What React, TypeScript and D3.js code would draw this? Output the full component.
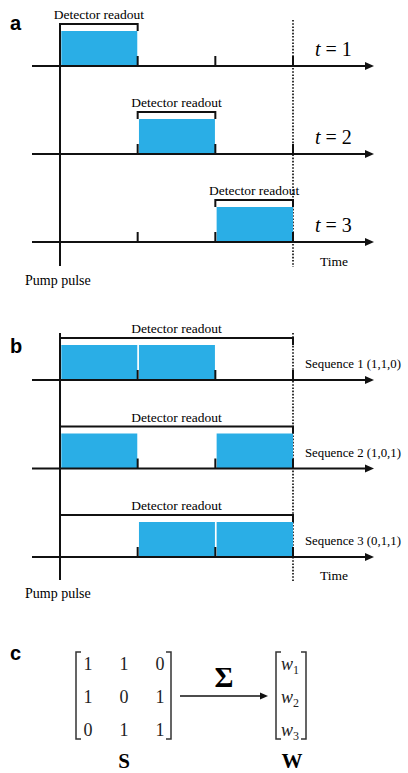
import React from 'react';
import * as d3 from 'd3';

// time slots on the horizontal axis (pump pulse at 0, end of window at 3)
const slots = [0, 1, 2, 3];
// panel a: one readout window per measurement t
const readoutT = [1, 2, 3];
// panel b: encoded sequences
const seqNames = ['Sequence 1 (1,1,0)', 'Sequence 2 (1,0,1)', 'Sequence 3 (0,1,1)'];
const seqBits = [
  [1, 1, 0],
  [1, 0, 1],
  [0, 1, 1],
];
// panel c: weights vector
const weightIdx = ['1', '2', '3'];

const BLUE = '#2aaee6';
const SERIF = '"Liberation Serif", "Times New Roman", serif';
const SANS = '"Liberation Sans", Arial, sans-serif';

const W = 408;
const H = 773;

const x = d3.scaleLinear().domain([0, 3]).range([60, 293]);
const yA = d3.scalePoint<number>().domain(readoutT).range([66, 242]);
const yB = d3.scalePoint<number>().domain([0, 1, 2]).range([380, 557]);

const barH = 35;
const tickH = 10;
const axisX0 = 32;
const axisX1 = 374;

function Axis({ y }: { y: number }) {
  return (
    <g>
      <line x1={axisX0} x2={axisX1 - 8} y1={y} y2={y} stroke="#111" strokeWidth={2} />
      <path d={`M${axisX1},${y} L${axisX1 - 9},${y - 4} L${axisX1 - 9},${y + 4} Z`} fill="#111" />
      {slots.slice(1).map(s => (
        <line key={s} x1={x(s)} x2={x(s)} y1={y - tickH} y2={y} stroke="#111" strokeWidth={2} />
      ))}
    </g>
  );
}

function Bracket({ x0, x1, y, drop }: { x0: number; x1: number; y: number; drop: number }) {
  return (
    <g>
      <path d={`M${x0},${y + drop} L${x0},${y} L${x1},${y} L${x1},${y + drop}`}
        fill="none" stroke="#111" strokeWidth={2} />
      <text x={(x0 + x1) / 2} y={y - 5} textAnchor="middle" fontFamily={SERIF} fontSize={13.5}>
        Detector readout
      </text>
    </g>
  );
}

function Bar({ slot, y }: { slot: number; y: number }) {
  const x0 = x(slot) + 1.3;
  const x1 = x(slot + 1) - (slot === 2 ? 0 : 0.4);
  return <rect x={x0} y={y - barH} width={x1 - x0} height={barH} fill={BLUE} />;
}

function MatBracket({ x0, side, top, bottom }: { x0: number; side: number; top: number; bottom: number }) {
  return (
    <path d={`M${x0 + side * 5},${top} L${x0},${top} L${x0},${bottom} L${x0 + side * 5},${bottom}`}
      fill="none" stroke="#333" strokeWidth={1.5} />
  );
}

export default function App() {
  const rowY = d3.scalePoint<number>().domain([0, 1, 2]).range([670, 736]);
  const colX = d3.scalePoint<number>().domain([0, 1, 2]).range([88, 160]);
  const matTop = 652;
  const matBot = 739;
  return (
    <svg width={W} height={H} style={{ position: 'absolute', left: 0, top: 0, background: '#fff' }}>
      {/* ---------- panel a ---------- */}
      <text x={10} y={30} fontFamily={SANS} fontWeight="bold" fontSize={20}>a</text>
      <line x1={x(0)} x2={x(0)} y1={24} y2={266} stroke="#111" strokeWidth={2} />
      <line x1={x(3)} x2={x(3)} y1={20} y2={267} stroke="#222" strokeWidth={1.8} strokeDasharray="1.6,1.6" />
      {readoutT.map(t => {
        const y = yA(t)!;
        return (
          <g key={t}>
            <Bar slot={t - 1} y={y} />
            <Axis y={y} />
            <Bracket x0={x(t - 1)} x1={x(t)} y={y - barH - 7} drop={7} />
            <text x={315} y={y - 10} fontFamily={SERIF} fontSize={20}>
              <tspan fontStyle="italic">t</tspan> = {t}
            </text>
          </g>
        );
      })}
      <text x={320} y={266} fontFamily={SERIF} fontSize={13.5}>Time</text>
      <text x={25} y={285} fontFamily={SERIF} fontSize={14}>Pump pulse</text>

      {/* ---------- panel b ---------- */}
      <text x={10} y={353} fontFamily={SANS} fontWeight="bold" fontSize={20}>b</text>
      <line x1={x(0)} x2={x(0)} y1={333} y2={580} stroke="#111" strokeWidth={2} />
      <line x1={x(3)} x2={x(3)} y1={333} y2={582} stroke="#222" strokeWidth={1.8} strokeDasharray="1.6,1.6" />
      {seqBits.map((bits, i) => {
        const y = yB(i)!;
        return (
          <g key={i}>
            {bits.map((b, s) => (b ? <Bar key={s} slot={s} y={y} /> : null))}
            <Axis y={y} />
            <Bracket x0={x(0)} x1={x(3)} y={y - barH - 7} drop={7} />
            <text x={305} y={y - 12} fontFamily={SERIF} fontSize={12.8}>{seqNames[i]}</text>
          </g>
        );
      })}
      <text x={320} y={580} fontFamily={SERIF} fontSize={13.5}>Time</text>
      <text x={25} y={598} fontFamily={SERIF} fontSize={14}>Pump pulse</text>

      {/* ---------- panel c ---------- */}
      <text x={10} y={660} fontFamily={SANS} fontWeight="bold" fontSize={20}>c</text>
      <MatBracket x0={76} side={1} top={matTop} bottom={matBot} />
      <MatBracket x0={171} side={-1} top={matTop} bottom={matBot} />
      {seqBits.map((bits, r) =>
        bits.map((b, c) => (
          <text key={`${r}-${c}`} x={colX(c)} y={rowY(r)} textAnchor="middle"
            fontFamily={SERIF} fontSize={18} fill="#222">{b}</text>
        ))
      )}
      <line x1={180} x2={261} y1={696} y2={696} stroke="#111" strokeWidth={1.5} />
      <path d="M268,696 L260,692.5 L260,699.5 Z" fill="#111" />
      <text x={224} y={687} textAnchor="middle" fontFamily={SERIF} fontWeight="bold" fontSize={29}>Σ</text>
      <MatBracket x0={276} side={1} top={matTop} bottom={matBot} />
      <MatBracket x0={306} side={-1} top={matTop} bottom={matBot} />
      {weightIdx.map((w, r) => (
        <text key={w} x={281} y={rowY(r)} fontFamily={SERIF} fontSize={18} fill="#222">
          <tspan fontStyle="italic">w</tspan>
          <tspan fontSize={12} dy={4}>{w}</tspan>
        </text>
      ))}
      <text x={124} y={768} textAnchor="middle" fontFamily={SERIF} fontWeight="bold" fontSize={21}>S</text>
      <text x={292} y={768} textAnchor="middle" fontFamily={SERIF} fontWeight="bold" fontSize={21}>W</text>
    </svg>
  );
}
